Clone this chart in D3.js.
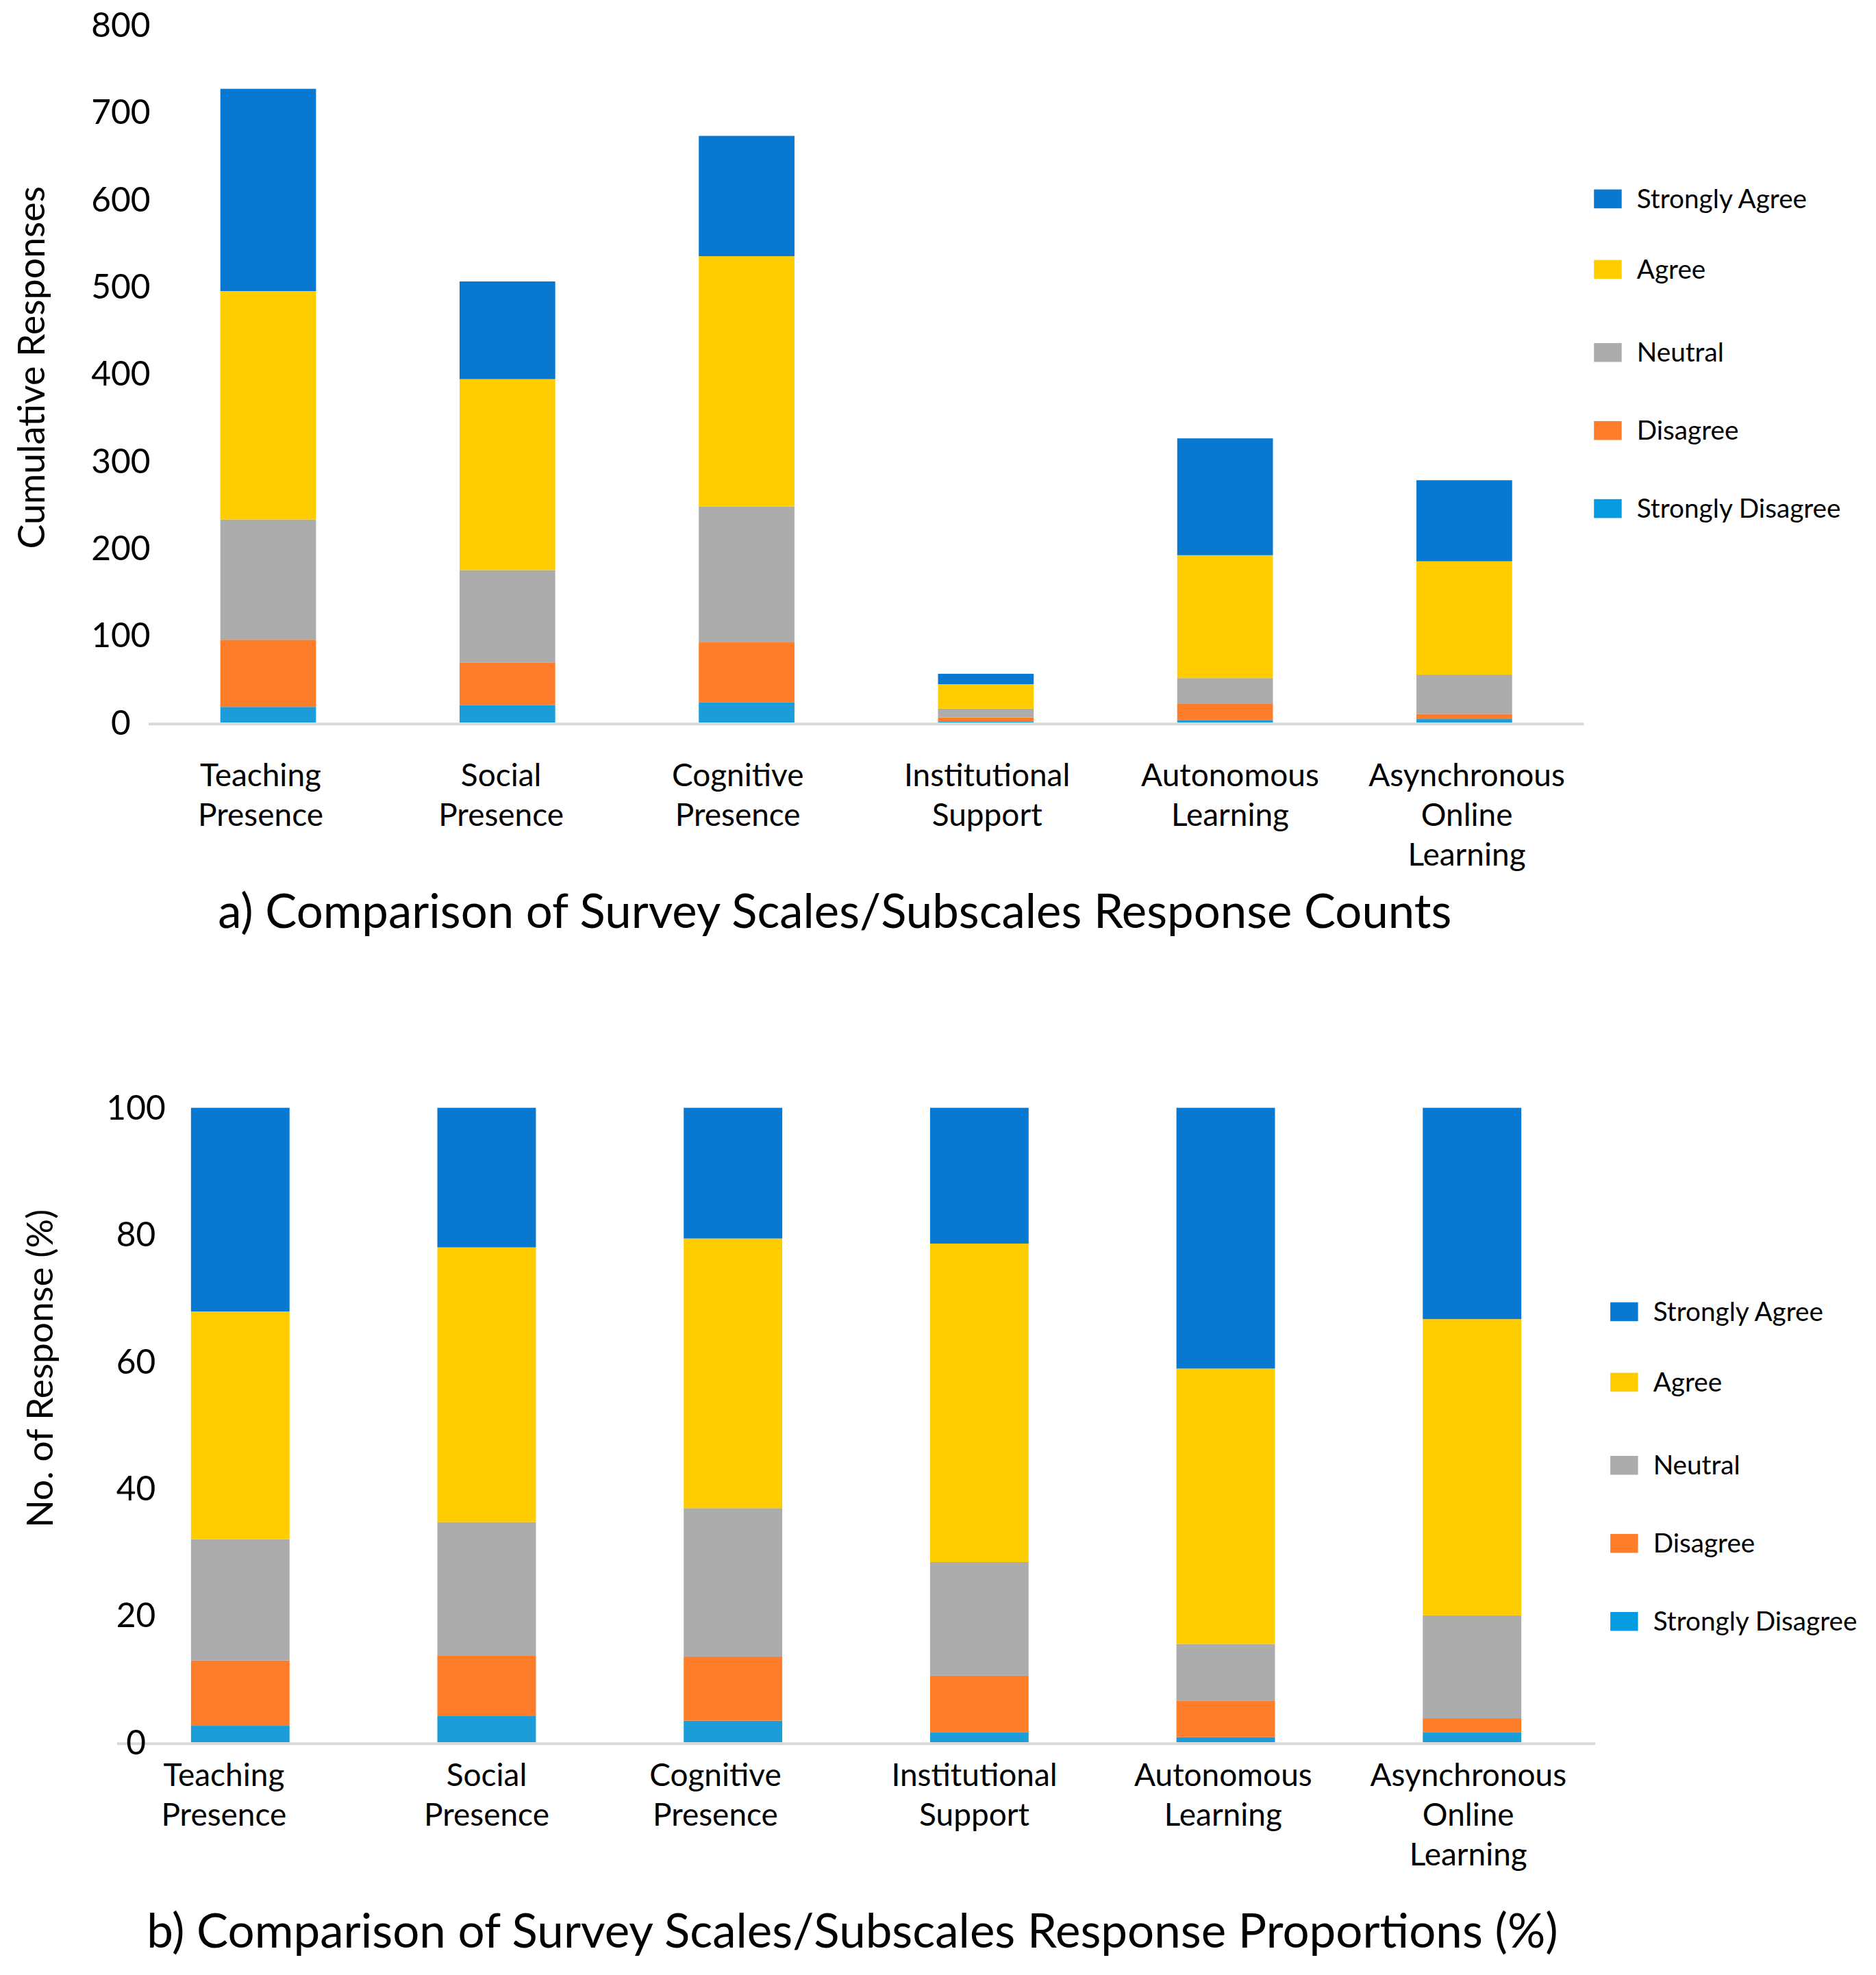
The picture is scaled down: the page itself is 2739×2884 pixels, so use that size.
<!DOCTYPE html>
<html><head><meta charset="utf-8">
<script src="https://cdn.jsdelivr.net/npm/d3@7"></script>
<style>body{margin:0;background:#fff} svg{display:block}</style>
</head><body>
<svg id="c" width="2739" height="2884"></svg>
<script>
// ---------- DATA ----------
const categories = ["Teaching Presence", "Social Presence", "Cognitive Presence", "Institutional Support", "Autonomous Learning", "Asynchronous Online Learning"];
const labelLines = [["Teaching","Presence"],["Social","Presence"],["Cognitive","Presence"],["Institutional","Support"],["Autonomous","Learning"],["Asynchronous","Online","Learning"]];
const seriesNames = ["Strongly Disagree","Disagree","Neutral","Agree","Strongly Agree"];
const legendOrder = ["Strongly Agree","Agree","Neutral","Disagree","Strongly Disagree"];

// counts (panel a)
const countsSD = [18, 20, 23, 1, 3, 4];
const countsD  = [77, 49, 69, 5, 19, 6];
const countsN  = [138, 106, 156, 10, 29, 45];
const countsA  = [262, 219, 287, 28, 141, 130];
const countsSA = [232, 112, 138, 12, 134, 93];

// proportions % (panel b)
const pctSD = [2.6, 4.2, 3.4, 1.6, 0.8, 1.6];
const pctD  = [10.3, 9.5, 10.1, 8.9, 5.7, 2.2];
const pctN  = [19.1, 21.0, 23.4, 17.9, 9.0, 16.2];
const pctA  = [35.9, 43.3, 42.5, 50.2, 43.4, 46.7];
const pctSA = [32.1, 22.0, 20.6, 21.4, 41.1, 33.3];

const countTicks = [0,100,200,300,400,500,600,700,800];
const pctTicks = [0,20,40,60,80,100];

const titleA = "a) Comparison of Survey Scales/Subscales Response Counts";
const titleB = "b) Comparison of Survey Scales/Subscales Response Proportions (%)";
const yTitleA = "Cumulative Responses";
const yTitleB = "No. of Response (%)";

// ---------- STYLE ----------
const barColors = {"Strongly Agree":"#0878d0","Agree":"#ffcc00","Neutral":"#acacac","Disagree":"#fd7d2a","Strongly Disagree":"#1c9dd9"};
const legendColors = {"Strongly Agree":"#0878d0","Agree":"#ffcc00","Neutral":"#acacac","Disagree":"#fd7d2a","Strongly Disagree":"#069be0"};
const FONT = "Lato, 'Open Sans', sans-serif";
const S = 2739/1490;

const svg = d3.select("#c");

function fitSize(text, target){
  const t = svg.append("text").attr("font-family",FONT).attr("font-size",100).text(text);
  const w = t.node().getComputedTextLength();
  t.remove();
  return 100*target/w;
}
const fsTick = fitSize("800", 47*S);
const fsCat = fitSize("Asynchronous", 156*S);
const fsLeg = fitSize("Strongly Disagree", 162*S);

function rows(sd,d,n,a,sa){
  return categories.map((c,i)=>({cat:c,"Strongly Disagree":sd[i],"Disagree":d[i],"Neutral":n[i],"Agree":a[i],"Strongly Agree":sa[i]}));
}

function panel(cfg){
  const data = rows(...cfg.series);
  const stacked = d3.stack().keys(seriesNames)(data);
  const x = d3.scaleBand().domain(categories).range([cfg.x0*S, cfg.x1*S]).paddingInner(0.6).paddingOuter(0.3);
  const y = d3.scaleLinear().domain(cfg.domain).range([cfg.yBase*S, cfg.yTop*S]);
  const g = svg.append("g");

  g.selectAll("g.s").data(stacked).join("g").attr("fill",d=>barColors[d.key])
    .selectAll("rect").data(d=>d).join("rect")
    .attr("x",d=>x(d.data.cat)).attr("width",x.bandwidth())
    .attr("y",d=>y(d[1])).attr("height",d=>Math.max(0,y(d[0])-y(d[1])));

  // baseline
  g.append("line").attr("x1",cfg.x0*S).attr("x2",cfg.x1*S)
    .attr("y1",y(0)+2).attr("y2",y(0)+2).attr("stroke","#d9d9d9").attr("stroke-width",4);

  // y tick labels
  g.selectAll("text.tick").data(cfg.ticks).join("text").attr("class","tick")
    .attr("x",cfg.tickX*S).attr("y",d=>y(d)).attr("dy","0.35em")
    .attr("text-anchor","middle").attr("font-family",FONT).attr("font-size",fsTick).attr("fill","#000")
    .text(d=>d);

  // y title
  const fsY = fitSize(cfg.yTitle, cfg.yTitleW*S);
  g.append("text").attr("transform",`translate(${cfg.yTitleX*S},${cfg.yTitleY*S}) rotate(-90)`)
    .attr("text-anchor","middle").attr("dy","0.35em").attr("font-family",FONT).attr("font-size",fsY).text(cfg.yTitle);

  // category labels
  const cl = g.selectAll("text.cat").data(categories).join("text").attr("class","cat")
    .attr("text-anchor","middle").attr("font-family",FONT).attr("font-size",fsCat);
  cl.each(function(c,i){
    const cx = x(c)+x.bandwidth()/2 + cfg.labelShift[i]*S;
    d3.select(this).selectAll("tspan").data(labelLines[i]).join("tspan")
      .attr("x",cx).attr("y",(l,j)=>(cfg.catY+j*31.5)*S).attr("dy","0.35em").text(l=>l);
  });

  // legend
  const lg = g.selectAll("g.leg").data(legendOrder).join("g").attr("class","leg")
    .attr("transform",(d,i)=>`translate(${cfg.legX*S},${cfg.legY[i]*S})`);
  lg.append("rect").attr("x",0).attr("y",-7.5*S).attr("width",22*S).attr("height",15*S).attr("fill",d=>legendColors[d]);
  lg.append("text").attr("x",34*S).attr("y",0).attr("dy","0.35em").attr("font-family",FONT).attr("font-size",fsLeg).text(d=>d);

  // title
  const fsT = fitSize(cfg.title, cfg.titleW*S);
  g.append("text").attr("x",cfg.titleX*S).attr("y",cfg.titleY*S).attr("dy","0.35em").attr("text-anchor","middle")
    .attr("font-family",FONT).attr("font-size",fsT).text(cfg.title);
}

panel({series:[countsSD,countsD,countsN,countsA,countsSA], domain:[0,800], ticks:countTicks,
  x0:118, x1:1258, yBase:574, yTop:20, tickX:96,
  yTitle:yTitleA, yTitleW:288, yTitleX:25, yTitleY:292, catY:616, labelShift:[-6,-5,-7,1,4,2],
  legX:1266, legY:[158,214,280,342,404], title:titleA, titleW:980, titleX:663, titleY:724});

panel({series:[pctSD,pctD,pctN,pctA,pctSA], domain:[0,100], ticks:pctTicks,
  x0:93, x1:1267, yBase:1384, yTop:880, tickX:108,
  yTitle:yTitleB, yTitleW:253, yTitleX:32, yTitleY:1087, catY:1410, labelShift:[-13,0,-14,-4,-2,-3],
  legX:1279, legY:[1042,1098,1164,1226,1288], title:titleB, titleW:1121, titleX:677, titleY:1534});
</script>
</body></html>
